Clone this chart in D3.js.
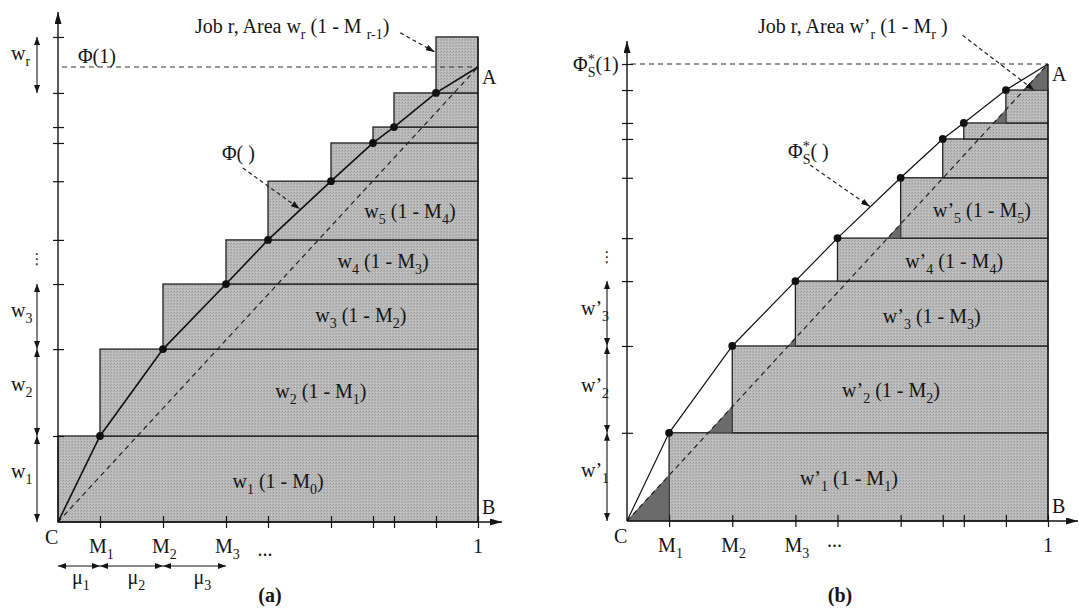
<!DOCTYPE html>
<html>
<head>
<meta charset="utf-8">
<script src="https://cdn.jsdelivr.net/npm/d3@7"></script>
<style>
body { margin: 0; background: #fff; }
text { font-family: "Liberation Serif", "Times New Roman", serif; font-size: 20px; fill: #151515; }
</style>
</head>
<body>
<script>
// break points on the x axis (M_0 .. M_9 = 1)
const M = [0, 0.1, 0.25, 0.4, 0.5, 0.65, 0.75, 0.8, 0.9, 1.0];
// cumulative weights, panel (a) : the last one is the top of job r
const cumA = [0, 0.189, 0.380, 0.523, 0.620, 0.749, 0.833, 0.868, 0.943, 1.066];
// cumulative weights, panel (b) : ends at Phi*(1)
const cumB = [0, 0.193, 0.383, 0.525, 0.619, 0.751, 0.836, 0.871, 0.943, 1.0];

const xTickLabels = ["M_{1}", "M_{2}", "M_{3}"];
const rowLabelsA = ["w_{1} (1 - M_{0})", "w_{2} (1 - M_{1})", "w_{3} (1 - M_{2})", "w_{4} (1 - M_{3})", "w_{5} (1 - M_{4})"];
const rowLabelsB = ["w’_{1} (1 - M_{1})", "w’_{2} (1 - M_{2})", "w’_{3} (1 - M_{3})", "w’_{4} (1 - M_{4})", "w’_{5} (1 - M_{5})"];
const sideLabelsA = ["w_{1}", "w_{2}", "w_{3}"];
const sideLabelsB = ["w’_{1}", "w’_{2}", "w’_{3}"];
const muLabels = ["μ_{1}", "μ_{2}", "μ_{3}"];

const width = 1079, height = 608;
const svg = d3.select('body').append('svg')
    .attr('width', width).attr('height', height);

// markers and the stippled grey
const defs = svg.append('defs');
function marker(id, w, h) {
    defs.append('marker').attr('id', id)
        .attr('markerUnits', 'userSpaceOnUse')
        .attr('markerWidth', w).attr('markerHeight', h)
        .attr('refX', w).attr('refY', h / 2)
        .attr('orient', 'auto-start-reverse')
        .append('path').attr('d', `M0,0L${w},${h / 2}L0,${h}Z`).attr('fill', '#151515');
}
marker('axisHead', 12, 7);
marker('dimHead', 8, 6);
marker('ptrHead', 9, 6);

const pat = defs.append('pattern').attr('id', 'stipple')
    .attr('patternUnits', 'userSpaceOnUse').attr('width', 3).attr('height', 3);
pat.append('rect').attr('width', 3).attr('height', 3).attr('fill', '#bababa');
pat.append('rect').attr('x', 0).attr('y', 0).attr('width', 1).attr('height', 1).attr('fill', '#9a9a9a');
pat.append('rect').attr('x', 2).attr('y', 1).attr('width', 1).attr('height', 1).attr('fill', '#a6a6a6');
pat.append('rect').attr('x', 1).attr('y', 2).attr('width', 1).attr('height', 1).attr('fill', '#c6c6c6');

// rich text: "w_{1}" subscript, "^{*}" superscript, a sub right after a sup is stacked under it
function rich(g, x, y, str, anchor, size) {
    size = size || 20;
    const small = Math.round(size * 0.7);
    const t = g.append('text').attr('x', x).attr('y', y)
        .attr('text-anchor', anchor || 'start').style('font-size', size + 'px');
    const parts = str.match(/(_\{[^}]*\}|\^\{[^}]*\}|[^_^]+)/g);
    let level = 0, lastSup = null;
    parts.forEach(p => {
        let mode = 0, s = p;
        if (p.startsWith('_{')) { mode = 1; s = p.slice(2, -1); }
        if (p.startsWith('^{')) { mode = 2; s = p.slice(2, -1); }
        const target = mode === 1 ? size * 0.3 : mode === 2 ? -size * 0.33 : 0;
        const ts = t.append('tspan').attr('dy', target - level).text(s);
        if (mode) ts.style('font-size', small + 'px');
        if (mode === 1 && lastSup) ts.attr('dx', -lastSup.node().getComputedTextLength());
        lastSup = mode === 2 ? ts : null;
        level = target;
    });
    return t;
}

function drawPanel(c) {
    const g = svg.append('g');
    const x = d3.scaleLinear().domain([0, 1]).range([c.left, c.right]);
    const y = d3.scaleLinear().domain([0, 1]).range([c.bottom, c.top]);

    // job rectangles
    g.selectAll('rect.job').data(c.rects).join('rect').attr('class', 'job')
        .attr('x', d => x(d.x0)).attr('width', d => x(1) - x(d.x0))
        .attr('y', d => y(d.y1)).attr('height', d => y(d.y0) - y(d.y1))
        .attr('fill', 'url(#stipple)').attr('stroke', '#1e1e1e').attr('stroke-width', 1.3);

    // dark triangles between the diagonal and the rectangles
    g.selectAll('path.dark').data(c.dark).join('path').attr('class', 'dark')
        .attr('d', d => 'M' + d.map(p => [x(p[0]), y(p[1])].join(',')).join('L') + 'Z')
        .attr('fill', '#6b6b6b').attr('stroke', '#333').attr('stroke-width', 0.6);

    // right edge
    g.append('line').attr('x1', x(1)).attr('x2', x(1)).attr('y1', y(0)).attr('y2', y(c.cum[c.cum.length - 1]))
        .attr('stroke', '#1e1e1e').attr('stroke-width', 1.3);

    // Phi(1) dashed level
    g.append('line').attr('x1', x(0) + 4).attr('x2', x(1)).attr('y1', y(1)).attr('y2', y(1))
        .attr('stroke', '#333').attr('stroke-width', 1.2).attr('stroke-dasharray', '5,4');

    // diagonal C - A
    g.append('line').attr('x1', x(0)).attr('y1', y(0)).attr('x2', x(1)).attr('y2', y(1))
        .attr('stroke', '#222').attr('stroke-width', 1.2).attr('stroke-dasharray', '5,4');

    // Phi curve
    const line = d3.line().x(d => x(d[0])).y(d => y(d[1]));
    g.append('path').datum(c.curve).attr('d', line)
        .attr('fill', 'none').attr('stroke', '#111').attr('stroke-width', c.curveW);
    g.selectAll('circle.pt').data(c.curve.slice(1, -1)).join('circle').attr('class', 'pt')
        .attr('cx', d => x(d[0])).attr('cy', d => y(d[1])).attr('r', 3.9).attr('fill', '#111');

    // axes
    const yAxis = g.append('g').attr('transform', `translate(${x(0)},0)`)
        .call(d3.axisLeft(y).tickValues(c.yTicks).tickFormat('').tickSizeOuter(0));
    yAxis.select('.domain').remove();
    yAxis.selectAll('.tick line').attr('x1', -5).attr('x2', 6).attr('stroke', '#151515').attr('stroke-width', 1.2);
    const xAxis = g.append('g').attr('transform', `translate(0,${y(0)})`)
        .call(d3.axisBottom(x).tickValues(M.slice(1)).tickFormat('').tickSizeOuter(0));
    xAxis.select('.domain').remove();
    xAxis.selectAll('.tick line').attr('y1', -6).attr('y2', 6).attr('stroke', '#151515').attr('stroke-width', 1.2);

    g.append('line').attr('x1', x(0)).attr('y1', y(0)).attr('x2', x(0)).attr('y2', c.yArrowTop)
        .attr('stroke', '#151515').attr('stroke-width', 1.4).attr('marker-end', 'url(#axisHead)');
    g.append('line').attr('x1', x(0)).attr('y1', y(0)).attr('x2', c.xArrowEnd).attr('y2', y(0))
        .attr('stroke', '#151515').attr('stroke-width', 1.4).attr('marker-end', 'url(#axisHead)');

    // dimension arrows on the left
    g.selectAll('line.dim').data(c.dims).join('line').attr('class', 'dim')
        .attr('x1', c.dimX).attr('x2', c.dimX)
        .attr('y1', d => y(d[0])).attr('y2', d => y(d[1]))
        .attr('stroke', '#151515').attr('stroke-width', 1.1)
        .attr('marker-start', 'url(#dimHead)').attr('marker-end', 'url(#dimHead)');
    c.sideLabels.forEach((s, i) => rich(g, c.dimX - 26, c.sideY[i], s));
    g.append('text').attr('x', c.dimX).attr('y', y((c.cum[3] + c.cum[4]) / 2) + 2)
        .attr('text-anchor', 'middle').style('font-family', 'DejaVu Sans').style('font-size', '15px').text('⋮');

    // row labels
    c.rowLabels.forEach((s, i) => rich(g, x(c.rowPos[i][0]), y(c.rowPos[i][1]), s, 'middle'));

    // x tick labels
    xTickLabels.forEach((s, i) => rich(g, x(M[i + 1]) - 11, c.bottom + 31, s));
    g.append('text').attr('x', x(M[4]) - 3).attr('y', c.bottom + c.dotsDy).attr('text-anchor', 'middle').text('...');
    g.append('text').attr('x', x(1)).attr('y', c.bottom + 31).attr('text-anchor', 'middle').text('1');
    g.append('text').attr('x', x(0) - 13).attr('y', c.bottom + 22).text('C');
    g.append('text').attr('x', x(1) + 4).attr('y', c.bottom - 8).text('B');
    g.append('text').attr('x', x(1) + 4).attr('y', y(1) + 17).text('A');

    // annotations with dashed pointers
    c.notes.forEach(n => {
        rich(g, n.tx, n.ty, n.text);
        g.append('line').attr('x1', x(n.from[0])).attr('y1', y(n.from[1]))
            .attr('x2', x(n.to[0])).attr('y2', y(n.to[1]))
            .attr('stroke', '#222').attr('stroke-width', 1.2).attr('stroke-dasharray', '4,3')
            .attr('marker-end', 'url(#ptrHead)');
    });
    rich(g, c.phi1[0], c.phi1[1], c.phi1[2]);

    g.append('text').attr('x', c.capX).attr('y', 602).attr('text-anchor', 'middle')
        .style('font-weight', 'bold').text(c.caption);
    return { g, x, y };
}

// ---------- panel (a)
const rectsA = d3.range(1, 10).map(i => ({ x0: M[i - 1], y0: cumA[i - 1], y1: cumA[i] }));
const curveA = [[0, 0]].concat(d3.range(1, 9).map(i => [M[i], cumA[i]]), [[1, 1]]);
const pa = drawPanel({
    left: 58, right: 478, bottom: 522, top: 67, yArrowTop: 12, xArrowEnd: 502,
    cum: cumA, rects: rectsA, dark: [], curve: curveA, curveW: 1.6,
    yTicks: cumA.slice(1),
    dims: [[cumA[0], cumA[1]], [cumA[1], cumA[2]], [cumA[2], cumA[3]], [cumA[8], cumA[9]]],
    dimX: 37, sideLabels: sideLabelsA.concat(["w_{r}"]), sideY: [478, 391, 317, 60],
    rowLabels: rowLabelsA,
    rowPos: [[0.524, 0.075], [0.626, 0.273], [0.721, 0.440], [0.774, 0.558], [0.838, 0.668]],
    dotsDy: 34,
    notes: [
        { text: "Job r, Area w_{r} (1 - M _{r-1})", tx: 195, ty: 33, from: [0.815, 1.075], to: [0.897, 1.033] },
        { text: "Φ( )", tx: 222, ty: 160, from: [0.44, 0.778], to: [0.576, 0.688] }
    ],
    phi1: [78, 63, "Φ(1)"],
    capX: 270, caption: "(a)"
});

// mu arrows under the axis (a)
pa.g.selectAll('line.mu').data(d3.range(3)).join('line').attr('class', 'mu')
    .attr('x1', i => pa.x(M[i])).attr('x2', i => pa.x(M[i + 1]))
    .attr('y1', 566).attr('y2', 566)
    .attr('stroke', '#151515').attr('stroke-width', 1.1)
    .attr('marker-start', 'url(#dimHead)').attr('marker-end', 'url(#dimHead)');
muLabels.forEach((s, i) => rich(pa.g, (pa.x(M[i]) + pa.x(M[i + 1])) / 2 - 7 + i * 3, 584, s));

// ---------- panel (b)
const rectsB = d3.range(1, 9).map(i => ({ x0: M[i], y0: cumB[i - 1], y1: cumB[i] }));
const curveB = [[0, 0]].concat(d3.range(1, 9).map(i => [M[i], cumB[i]]), [[1, 1]]);
const darkB = [];
d3.range(1, 10).forEach(i => {
    const y0 = cumB[i - 1], y1 = cumB[i], m = M[i];
    if (m <= y0) return;
    if (m >= y1) darkB.push([[y0, y0], [m, y0], [m, y1], [y1, y1]]);
    else darkB.push([[y0, y0], [m, y0], [m, m]]);
});
drawPanel({
    left: 627, right: 1048, bottom: 521, top: 64, yArrowTop: 41, xArrowEnd: 1078,
    cum: cumB, rects: rectsB, dark: darkB, curve: curveB, curveW: 1.2,
    yTicks: cumB.slice(1),
    dims: [[cumB[0], cumB[1]], [cumB[1], cumB[2]], [cumB[2], cumB[3]]],
    dimX: 607, sideLabels: sideLabelsB, sideY: [477, 392, 315],
    rowLabels: rowLabelsB,
    rowPos: [[0.527, 0.079], [0.627, 0.271], [0.724, 0.433], [0.777, 0.554], [0.843, 0.665]],
    dotsDy: 26,
    notes: [
        { text: "Job r, Area w’_{r} (1 - M_{r} )", tx: 758, ty: 33, from: [0.797, 1.063], to: [0.968, 0.942] },
        { text: "Φ^{*}_{S}( )", tx: 788, ty: 158, from: [0.435, 0.779], to: [0.577, 0.688] }
    ],
    phi1: [573, 71, "Φ^{*}_{S}(1)"],
    capX: 840, caption: "(b)"
});
</script>
</body>
</html>
